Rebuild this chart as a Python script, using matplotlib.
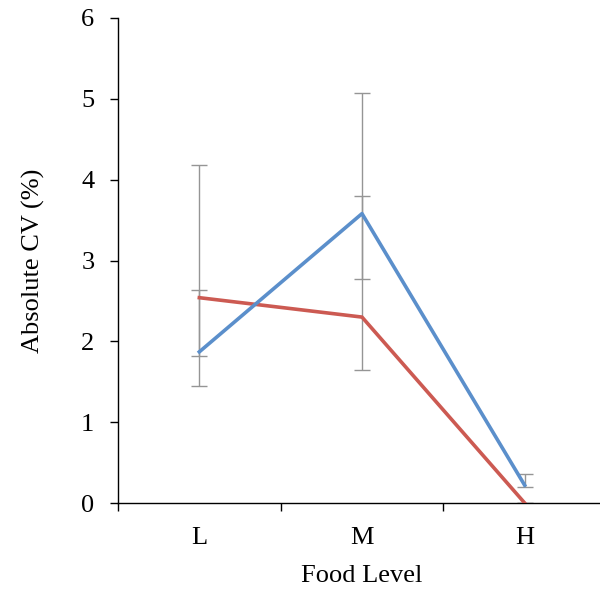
import matplotlib.pyplot as plt

plt.rcParams['font.family'] = ['Liberation Serif', 'DejaVu Serif']

levels = ['L', 'M', 'H']
blue_vals = [1.87, 3.58, 0.22]
blue_lo = [1.45, 2.77, 0.20]
blue_hi = [2.64, 5.07, 0.36]
red_vals = [2.54, 2.30, 0.0]
red_lo = [1.82, 1.65, 0.0]
red_hi = [4.18, 3.80, 0.0]

x = list(range(len(levels)))

fig = plt.figure(figsize=(6.0, 5.95), dpi=100)
ax = fig.add_axes([118 / 600, 92 / 595, 488 / 600, 485 / 595])

def err(vals, lo, hi):
    return [[v - l for v, l in zip(vals, lo)], [h - v for v, h in zip(vals, hi)]]

ax.errorbar(x, blue_vals, yerr=err(blue_vals, blue_lo, blue_hi), fmt='none',
            ecolor='#959595', elinewidth=1, capsize=6, capthick=1, zorder=2)
ax.errorbar(x, red_vals, yerr=err(red_vals, red_lo, red_hi), fmt='none',
            ecolor='#959595', elinewidth=1, capsize=6, capthick=1, zorder=2)
ax.plot(x, red_vals, color='#CC5A52', lw=2.6, zorder=3)
ax.plot(x, blue_vals, color='#5B8FCB', lw=2.6, zorder=4)

ax.set_xlim(-0.5, 2.5)
ax.set_ylim(0, 6)
ax.set_xticks([-0.5, 0.5, 1.5, 2.5])
ax.set_xticklabels([])
ax.set_xticks(x, minor=True)
ax.set_xticklabels(levels, minor=True)
ax.tick_params(axis='x', which='minor', length=0, labelsize=19, pad=17)
ax.tick_params(axis='x', which='major', length=6, direction='out', width=1)
ax.tick_params(axis='y', length=6, direction='out', width=1, labelsize=19, pad=11)
ax.set_yticks(range(7))

for s in ['top', 'right']:
    ax.spines[s].set_visible(False)
ax.spines['left'].set_linewidth(1)
ax.spines['bottom'].set_linewidth(1)

ax.set_xlabel('Food Level', fontsize=19, labelpad=12)
ax.set_ylabel('Absolute CV (%)', fontsize=19, labelpad=26)

fig.savefig('out.png', dpi=100)
